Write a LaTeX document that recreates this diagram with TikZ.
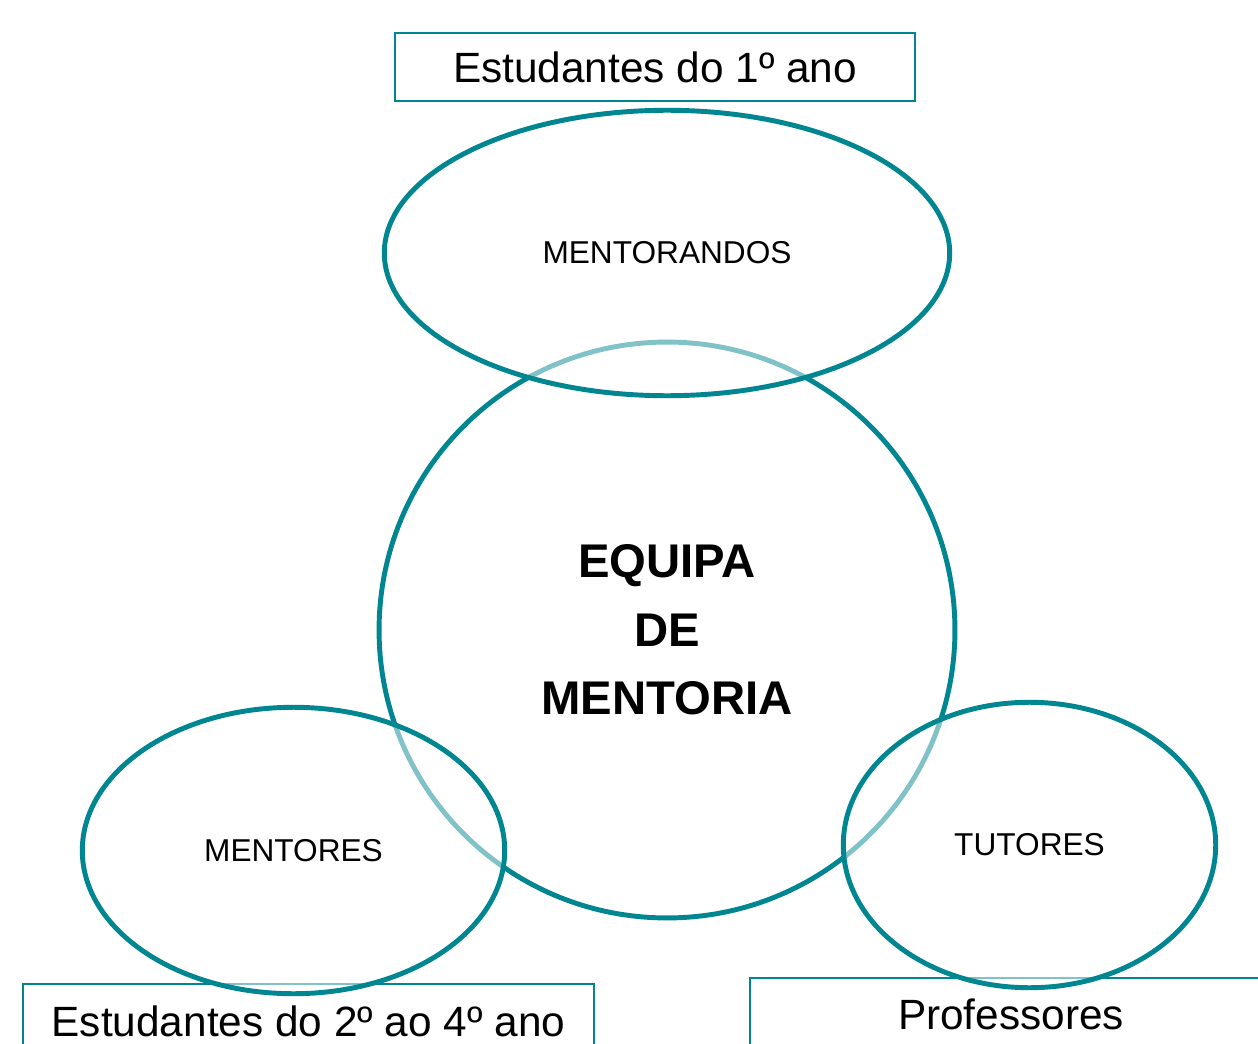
\documentclass[tikz,border=0pt]{standalone}
\usepackage{fontspec}
\setmainfont{Liberation Sans}
\usepackage{tikz}
\usetikzlibrary{shapes.geometric}

\definecolor{mentorteal}{RGB}{0,134,145}

\tikzset{
    group/.style={ellipse, draw=mentorteal, line width=2.8pt, fill=white,
        fill opacity=0.5, text opacity=1, inner sep=0pt,
        font=\fontsize{18}{21}\selectfont},
    labelbox/.style={rectangle, draw=mentorteal, line width=1.1pt, inner sep=0pt,
        font=\fontsize{24.1}{29}\selectfont}
}

\begin{document}
\begin{tikzpicture}[x=0.02cm, y=-0.02cm]
    \clip (0,0) rectangle (1258,1044);
    \fill[white] (0,0) rectangle (1258,1044);

    % Boxes
    \node[labelbox, minimum width=10.42cm, minimum height=1.36cm] (firstyear) at (655,67) {Estudantes do 1º ano};
    \node[labelbox, minimum width=11.44cm, minimum height=1.48cm] (seniors) at (308.5,1021) {Estudantes do 2º ao 4º ano};
    \node[labelbox, minimum width=10.46cm, minimum height=1.44cm] (teachers) at (1011,1014) {Professores};

    % Centre
    \node[circle, draw=mentorteal, line width=2.8pt, minimum size=11.52cm, inner sep=0pt,
        align=center, font=\fontsize{26.9}{39}\selectfont\bfseries] (team) at (667,630) {EQUIPA\\DE\\MENTORIA};

    % Groups
    \node[group, minimum width=11.31cm, minimum height=5.71cm] (mentees) at (667,253) {MENTORANDOS};
    \node[group, minimum width=8.45cm, minimum height=5.73cm] (mentors) at (293.5,850.5) {MENTORES};
    \node[group, minimum width=7.45cm, minimum height=5.71cm] (tutors) at (1029.5,845) {TUTORES};
\end{tikzpicture}
\end{document}
